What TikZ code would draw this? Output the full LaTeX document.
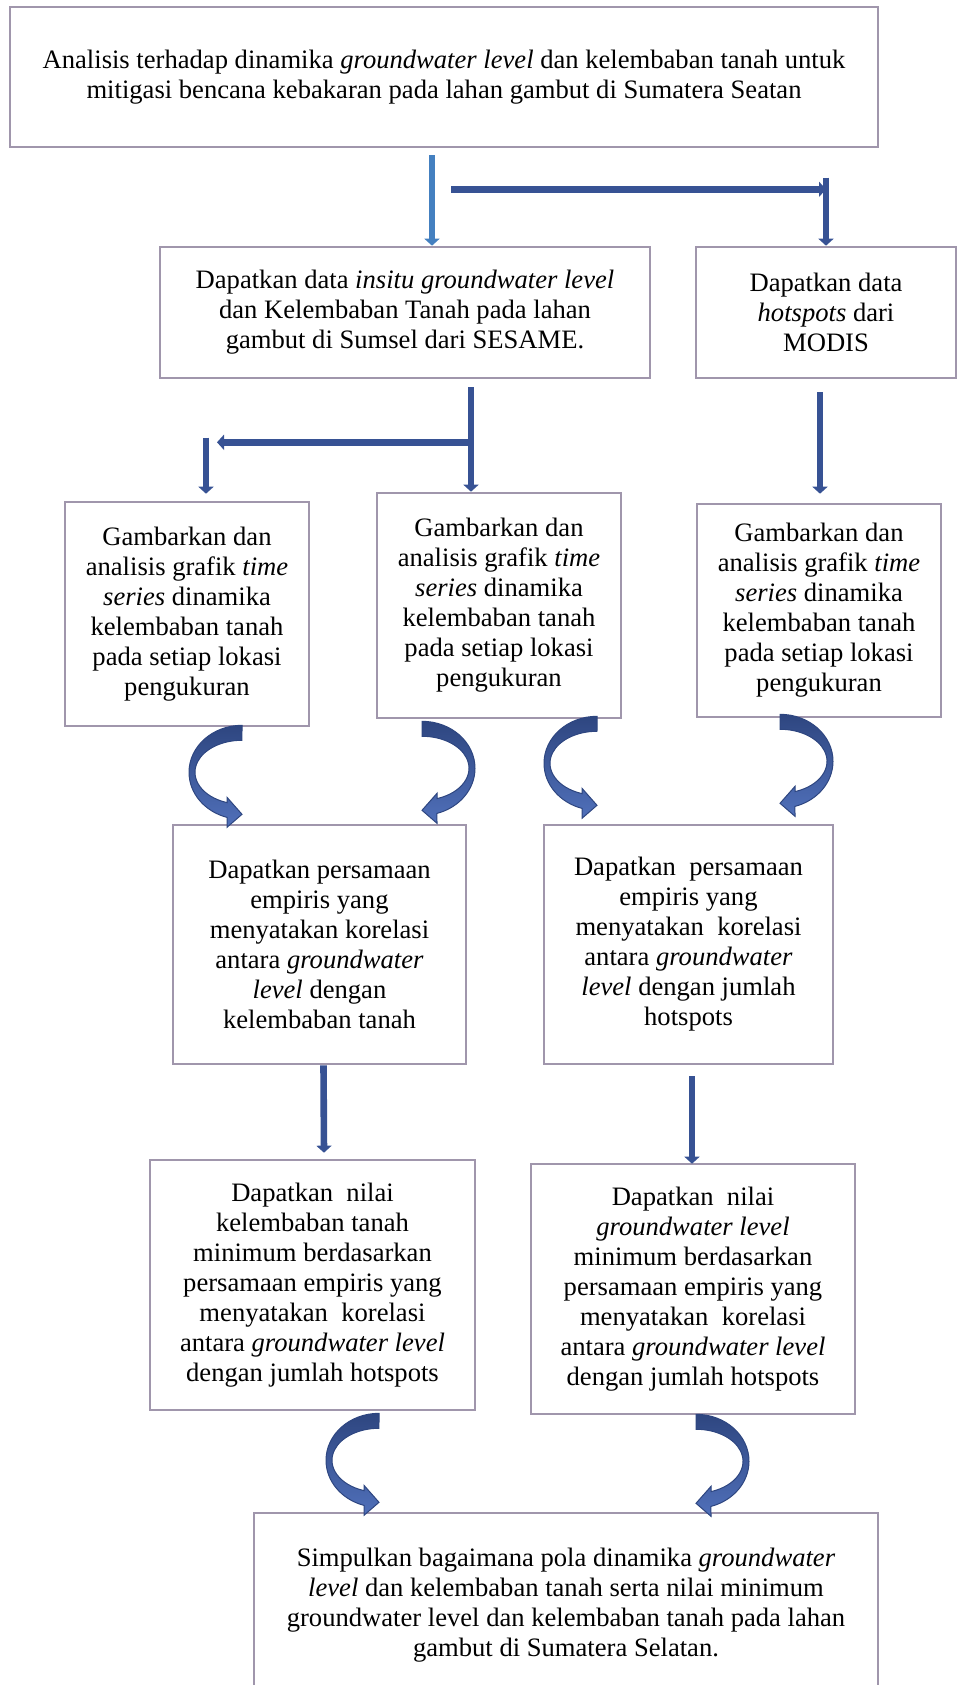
\documentclass[tikz,border=0pt]{standalone}
\usepackage{fontspec}
\setmainfont{Liberation Serif}
\usepackage{tikz}
\usetikzlibrary{arrows.meta}
\usetikzlibrary{calc}
\definecolor{garis}{RGB}{160,150,172}
\definecolor{biru}{RGB}{55,82,148}
\definecolor{birumuda}{RGB}{68,128,192}
\definecolor{birutua}{RGB}{46,70,128}
\definecolor{birulembut}{RGB}{80,112,186}

\begin{document}
\begin{tikzpicture}[x=0.5pt, y=-0.5pt,
    box/.style={draw=garis, line width=1.3pt, inner sep=0pt, align=center,
      font=\fontsize{13.3}{15}\selectfont},
    panah/.style={draw=biru, line width=3.3pt, -{Triangle[width=7.5pt,length=3.5pt]}},
    panahmuda/.style={panah, draw=birumuda},
    lengkung/.style={draw=birutua, line width=0.5pt, top color=birutua, bottom color=birulembut}]
  \useasboundingbox (0,0) rectangle (959,1685);
  \clip (0,0) rectangle (959,1685);

  \node[box, minimum width=434pt, minimum height=70pt] (judul) at (444,77)
    {Analisis terhadap dinamika \textit{groundwater level} dan kelembaban tanah untuk\\
     mitigasi bencana kebakaran pada lahan gambut di Sumatera Seatan};
  \node[box, minimum width=245pt, minimum height=65.5pt] (insitu) at (405,312.5)
    {Dapatkan data \textit{insitu groundwater level}\\
     dan Kelembaban Tanah pada lahan\\
     gambut di Sumsel dari SESAME.};
  \node[box, minimum width=130pt, minimum height=65.5pt] (modis) at (826,312.5)
    {Dapatkan data\\ \textit{hotspots} dari\\ MODIS};
  \foreach \n/\x/\y/\h in {grafikA/187/614/112pt, grafikB/499/605.5/112.5pt, grafikC/819/610.5/106.5pt} {
    \node[box, minimum width=122pt, minimum height=\h] (\n) at (\x,\y)
      {Gambarkan dan\\ analisis grafik \textit{time}\\ \textit{series} dinamika\\
       kelembaban tanah\\ pada setiap lokasi\\ pengukuran};
  }
  \node[box, minimum width=146.5pt, minimum height=119.5pt] (persA) at (319.5,944.5)
    {Dapatkan persamaan\\ empiris yang\\ menyatakan korelasi\\
     antara \textit{groundwater}\\ \textit{level} dengan\\ kelembaban tanah};
  \node[box, minimum width=144.5pt, minimum height=119.5pt] (persB) at (688.5,944.5)
    {Dapatkan\ \ persamaan\\ empiris yang\\ menyatakan\ \ korelasi\\
     antara \textit{groundwater}\\ \textit{level} dengan jumlah\\ hotspots};
  \node[box, minimum width=162.5pt, minimum height=125pt] (nilaiA) at (312.5,1285)
    {Dapatkan\ \ nilai\\ kelembaban tanah\\ minimum berdasarkan\\ persamaan empiris yang\\
     menyatakan\ \ korelasi\\ antara \textit{groundwater level}\\ dengan jumlah hotspots};
  \node[box, minimum width=162pt, minimum height=125pt] (nilaiB) at (693,1289)
    {Dapatkan\ \ nilai\\ \textit{groundwater level}\\ minimum berdasarkan\\ persamaan empiris yang\\
     menyatakan\ \ korelasi\\ antara \textit{groundwater level}\\ dengan jumlah hotspots};
  \node[box, minimum width=312pt, minimum height=92pt] (simpulan) at (566,1605)
    {Simpulkan bagaimana pola dinamika \textit{groundwater}\\
     \textit{level} dan kelembaban tanah serta nilai minimum\\
     groundwater level dan kelembaban tanah pada lahan\\
     gambut di Sumatera Selatan.};

  \coordinate (a1) at ($(judul.south)+(-12,7)$);
  \coordinate (a2) at ($(judul.south)+(7,41)$);
  \coordinate (a3) at ($(modis.north)+(0,-68)$);
  \coordinate (b1) at ($(insitu.south)+(66,8)$);
  \coordinate (b2) at ($(b1)+(0,55)$);
  \coordinate (b3) at ($(grafikA.north)+(19,-63)$);
  \coordinate (d1) at ($(persA.south)+(4,0)$);
  \coordinate (d2) at ($(persB.south)+(3.5,11)$);

  \draw[panahmuda] (a1) -- (a1 |- insitu.north);
  \draw[panah] (a2) -- (a2 -| modis.north);
  \draw[panah] (a3) -- (modis.north);
  \draw[panah] (b1) -- (b1 |- grafikB.north);
  \draw[panah] (b2) -- ($(b2 -| b3)+(11,0)$);
  \draw[panah] (b3) -- ($(b3 |- grafikA.north)+(0,-7)$);
  \draw[panah] ($(modis.south)+(-6,13)$) -- ($(grafikC.north)+(1,-9)$);
  \draw[panah] (d1) -- ($(nilaiA.north)+(11.5,-6)$);
  \draw[panah] (d2) -- ($(nilaiB.north)+(-1,1)$);

  \coordinate (c1) at ($(grafikA.south)+(55,-2)$);
  \coordinate (c2) at ($(grafikB.south)+(-77,2)$);
  \coordinate (c3) at ($(grafikB.south)+(98,-3)$);
  \coordinate (c4) at ($(grafikC.south)+(-39,-4)$);
  \coordinate (c5) at ($(nilaiA.south)+(66.5,2)$);
  \coordinate (c6) at ($(nilaiB.south)+(3,-1)$);
  \foreach \c/\s in {c1/1, c2/-1, c3/1, c4/-1, c5/1, c6/-1} {
    \begin{scope}[shift={(\c)}, xscale=\s]
      \draw[lengkung] (0,0) arc[start angle=-90, end angle=-253.6, x radius=53, y radius=47]
        -- (-15,102) -- (0,89) -- (-15,72) -- (-15,77.3)
        arc[start angle=-251.4, end angle=-90, x radius=47, y radius=32] -- cycle;
    \end{scope}
  }
\end{tikzpicture}
\end{document}
